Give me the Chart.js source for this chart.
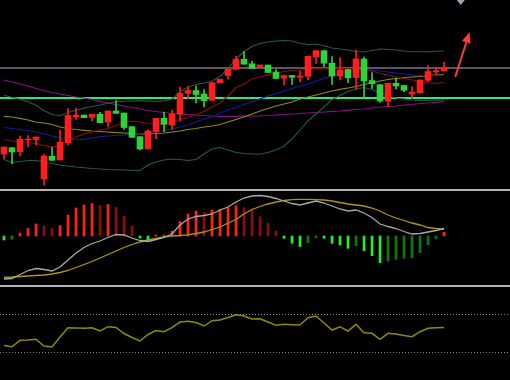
<!DOCTYPE html>
<html><head><meta charset="utf-8">
<script src="https://cdn.jsdelivr.net/npm/chart.js@4.4.1/dist/chart.umd.min.js"></script>
<style>
html,body{margin:0;padding:0;background:#000;}
#wrap{position:relative;width:510px;height:380px;background:#000;overflow:hidden;}
.pane{position:absolute;left:0;width:510px;}
.pane canvas{display:block;}
.sep{position:absolute;left:0;width:510px;height:2px;background:#b4b4b4;}
</style></head><body>
<div id="wrap">
 <div class="pane" style="top:0;height:189px"><canvas id="main" width="510" height="189"></canvas></div>
 <div class="sep" style="top:189px"></div>
 <div class="pane" style="top:191px;height:94px"><canvas id="macd" width="510" height="94"></canvas></div>
 <div class="sep" style="top:285px"></div>
 <div class="pane" style="top:287px;height:93px"><canvas id="osc" width="510" height="93"></canvas></div>
</div>
<script>
// ---------- DATA ----------
const candleOpen  = [4.6,5.23,4.83,6.0,6.05,2.1,4.37,4.0,5.73,8.3,8.5,8.27,8.57,7.8,8.9,8.7,7.33,6.33,5.13,6.85,8.17,7.5,8.6,10.67,10.95,10.6,9.97,11.73,12.45,13.07,14.08,13.62,13.23,13.5,12.8,12.18,12.45,12.27,12.37,14.33,14.93,13.68,12.4,13.05,12.25,14.1,11.95,11.53,9.9,11.67,11.45,10.6,10.73,11.97,12.8,12.9];
const candleClose = [5.3,4.8,6.07,6.1,6.3,4.4,3.97,5.77,8.45,8.5,8.23,8.57,7.73,8.9,8.67,7.25,6.27,5.1,6.9,8.17,7.57,8.6,10.67,10.95,10.55,9.93,11.73,12.08,13.1,14.08,13.58,13.17,13.5,12.75,12.15,12.45,12.27,12.4,14.38,14.93,13.68,12.4,13.0,12.22,14.1,11.9,11.63,9.9,11.67,11.4,10.97,10.8,12.0,12.85,12.93,13.23];
const candleHigh  = [5.3,5.23,6.4,6.45,6.3,4.57,5.27,7.0,9.15,9.2,8.5,8.57,8.77,8.9,9.95,8.7,7.33,6.33,7.05,8.17,8.8,9.0,11.3,11.35,11.4,11.03,11.73,12.08,13.1,14.4,14.83,13.9,13.5,13.5,13.03,12.45,12.45,12.9,14.38,14.93,14.93,14.33,14.23,13.05,15.0,14.3,12.73,11.53,11.67,12.2,11.45,11.33,12.0,13.45,13.3,13.8];
const candleLow   = [4.1,3.6,4.4,5.3,5.5,1.5,3.97,4.0,5.5,8.07,8.23,7.93,7.73,7.3,8.67,7.07,6.27,5.0,5.13,6.13,6.83,7.05,7.9,10.17,9.7,9.3,9.97,11.73,12.1,13.07,13.58,13.17,13.23,12.75,12.15,11.5,11.57,11.8,12.0,13.67,13.33,11.57,12.0,11.73,11.05,10.2,11.17,9.77,9.33,11.08,10.83,10.17,10.73,11.83,12.55,12.9];

const bollUpper = [10.48,10.28,10.07,9.82,9.47,8.95,8.55,8.43,8.75,8.98,9.19,9.35,9.5,9.67,9.83,9.87,9.9,9.92,9.9,9.85,9.9,10.1,10.8,11.3,11.55,11.7,11.9,12.35,13.15,14.1,14.85,15.35,15.65,15.8,15.9,15.95,15.9,15.67,15.55,15.6,15.43,15.2,15.1,15.0,14.85,14.8,14.95,15.1,15.05,15.0,14.9,14.83,14.82,14.83,14.87,14.9];
const bollLower = [4.05,3.75,3.85,3.95,3.95,3.8,3.65,3.5,3.4,3.3,3.23,3.15,3.1,3.05,3.03,3.0,2.97,2.95,3.5,3.8,4.0,4.1,4.05,3.95,4.05,4.6,5.1,5.25,5.0,4.75,4.65,4.6,4.6,4.75,5.0,5.4,6.1,7.0,7.9,8.6,9.3,10.05,10.45,10.85,11.1,11.25,11.05,10.7,10.4,10.2,10.1,10.0,9.95,9.95,9.97,10.0];
const maShort   = [6.05,5.9,5.83,5.75,5.65,5.45,5.3,5.4,5.9,6.3,6.6,6.8,7.0,7.15,7.45,7.8,7.9,7.8,7.65,7.6,7.65,7.8,8.05,8.25,8.55,8.85,9.35,9.7,10.4,11.25,11.6,12.1,12.3,12.53,12.7,12.85,12.95,13.0,13.05,13.15,13.17,13.17,13.17,13.15,13.1,13.05,12.9,12.65,12.5,12.3,12.17,12.0,11.85,11.7,11.67,11.75];
const maMid     = [7.25,7.15,7.05,6.95,6.8,6.6,6.4,6.25,6.15,6.05,6.07,6.2,6.33,6.4,6.45,6.5,6.55,6.65,6.75,6.85,6.95,7.1,7.3,7.5,7.8,8.1,8.3,8.7,9.0,9.25,9.55,9.8,10.1,10.4,10.65,10.9,11.15,11.4,11.6,11.9,12.15,12.45,12.7,12.85,12.95,13.05,13.0,12.9,12.8,12.7,12.6,12.5,12.45,12.4,12.45,12.5];
const maLong    = [8.37,8.3,8.17,8.0,7.8,7.7,7.55,7.3,7.15,7.05,6.97,6.9,6.85,6.8,6.73,6.7,6.67,6.6,6.6,6.65,6.7,6.8,6.9,7.05,7.15,7.3,7.4,7.55,7.8,8.05,8.3,8.6,8.9,9.15,9.4,9.6,9.8,10.1,10.3,10.5,10.7,10.9,11.07,11.2,11.35,11.55,11.7,11.9,12.05,12.15,12.25,12.3,12.35,12.43,12.5,12.57];
const maYear    = [12.0,11.8,11.6,11.4,11.15,10.95,10.75,10.6,10.45,10.3,10.2,10.05,9.87,9.7,9.55,9.4,9.25,9.1,8.95,8.85,8.75,8.65,8.6,8.53,8.5,8.45,8.4,8.37,8.35,8.37,8.38,8.4,8.4,8.45,8.5,8.55,8.6,8.65,8.7,8.75,8.8,8.87,8.9,8.97,9.05,9.1,9.2,9.3,9.35,9.4,9.5,9.55,9.65,9.7,9.77,9.83];
const priceLevels = [13.2, 10.17];           // grey last-price line, green support line
const arrowFrom = [56.4, 12.3], arrowTo = [58.2, 16.8];
const markerAt = [57.1, 20.0];

const macdHist = [-0.04,-0.033,0.03,0.075,0.12,0.10,0.075,0.105,0.21,0.28,0.31,0.325,0.305,0.315,0.285,0.20,0.10,-0.02,-0.04,0.01,0.01,0.05,0.145,0.22,0.25,0.237,0.26,0.265,0.283,0.303,0.285,0.27,0.193,0.127,0.05,-0.023,-0.073,-0.105,-0.067,-0.017,-0.023,-0.073,-0.09,-0.123,-0.097,-0.147,-0.197,-0.267,-0.25,-0.233,-0.223,-0.217,-0.165,-0.087,-0.027,0.037];
const macdDif  = [-0.43,-0.425,-0.385,-0.345,-0.325,-0.335,-0.35,-0.31,-0.24,-0.17,-0.115,-0.075,-0.05,-0.015,0.015,0.01,-0.02,-0.045,-0.055,-0.035,-0.015,0.02,0.11,0.17,0.195,0.205,0.22,0.26,0.29,0.34,0.38,0.40,0.405,0.395,0.375,0.35,0.325,0.31,0.33,0.35,0.33,0.30,0.27,0.25,0.26,0.23,0.185,0.12,0.095,0.075,0.045,0.02,0.025,0.04,0.055,0.075];
const macdDea  = [-0.413,-0.41,-0.405,-0.40,-0.395,-0.39,-0.38,-0.365,-0.345,-0.315,-0.285,-0.255,-0.22,-0.185,-0.15,-0.115,-0.085,-0.06,-0.04,-0.025,-0.01,0.0,0.005,0.012,0.025,0.04,0.065,0.09,0.13,0.165,0.22,0.265,0.295,0.32,0.34,0.355,0.363,0.367,0.367,0.363,0.36,0.35,0.335,0.32,0.31,0.30,0.28,0.25,0.21,0.18,0.155,0.13,0.11,0.085,0.075,0.067];

const oscValues = [29.9,28.0,38.3,38.8,39.9,29.1,27.5,43.6,58.5,58.0,57.5,58.5,53.2,60.1,58.8,49.2,42.8,37.2,47.6,54.0,52.1,58.5,67.6,68.8,66.8,61.2,69.7,70.8,74.9,79.3,77.3,72.5,72.9,67.6,62.3,63.9,63.3,62.8,74.5,77.3,66.0,54.8,60.1,53.2,63.9,50.5,49.5,39.9,49.5,48.4,46.0,44.1,52.1,57.5,58.5,58.8];
const oscLevels = [80, 20];

// ---------- helpers ----------
const X_MIN = -0.5, X_MAX = 63.25;
const pts = arr => arr.map((v, i) => ({x: i, y: v}));
const isUp = i => candleClose[i] >= candleOpen[i];
const RED = '#ff1e1e', GREEN = '#2fd23a';
const xScale = {type: 'linear', min: X_MIN, max: X_MAX, display: false, offset: false};
const baseOpts = {
  responsive: false, animation: false, devicePixelRatio: 1,
  layout: {padding: 0},
  plugins: {legend: {display: false}, tooltip: {enabled: false}},
  elements: {point: {radius: 0}},
};
function lineDs(arr, color, width, order) {
  return {type: 'line', data: pts(arr), borderColor: color, borderWidth: width,
          pointRadius: 0, tension: 0, fill: false, order: order};
}

// ---------- main price panel ----------
const mainDecor = {
  id: 'mainDecor',
  beforeDatasetsDraw(chart, args, opts) {
    const {ctx, chartArea: a, scales: {y}} = chart;
    ctx.save();
    priceLevels.forEach((lv, k) => {
      const py = Math.round(y.getPixelForValue(lv));
      ctx.strokeStyle = opts.levelColors[k];
      ctx.lineWidth = opts.levelWidths[k];
      ctx.beginPath(); ctx.moveTo(a.left, py); ctx.lineTo(a.right, py); ctx.stroke();
    });
    ctx.restore();
  },
  afterDatasetsDraw(chart) {
    const {ctx, scales: {x, y}} = chart;
    ctx.save();
    const x0 = x.getPixelForValue(arrowFrom[0]), y0 = y.getPixelForValue(arrowFrom[1]);
    const x1 = x.getPixelForValue(arrowTo[0]), y1 = y.getPixelForValue(arrowTo[1]);
    const ang = Math.atan2(y1 - y0, x1 - x0), L = 11, W = 4.5;
    const bx = x1 - L * Math.cos(ang), by = y1 - L * Math.sin(ang);
    ctx.strokeStyle = '#ff3a3a'; ctx.fillStyle = '#ff3a3a'; ctx.lineWidth = 2;
    ctx.beginPath(); ctx.moveTo(x0, y0); ctx.lineTo(bx, by); ctx.stroke();
    ctx.beginPath(); ctx.moveTo(x1, y1);
    ctx.lineTo(bx + W * Math.sin(ang), by - W * Math.cos(ang));
    ctx.lineTo(bx - W * Math.sin(ang), by + W * Math.cos(ang));
    ctx.closePath(); ctx.fill();
    const mx = x.getPixelForValue(markerAt[0]), my = y.getPixelForValue(markerAt[1]);
    ctx.fillStyle = '#9aa6b8';
    ctx.beginPath(); ctx.moveTo(mx - 4, my); ctx.lineTo(mx, my - 5); ctx.lineTo(mx + 4, my); ctx.lineTo(mx, my + 5); ctx.closePath(); ctx.fill();
    ctx.restore();
  }
};

new Chart(document.getElementById('main'), {
  type: 'bar',
  data: {datasets: [
    {type: 'bar', data: candleLow.map((v, i) => ({x: i, y: [v, candleHigh[i]]})),
     backgroundColor: c => isUp(c.dataIndex) ? RED : GREEN,
     barThickness: 1, grouped: false, borderWidth: 0, minBarLength: 1, order: 1},
    {type: 'bar', data: candleOpen.map((v, i) => ({x: i, y: [v, candleClose[i]]})),
     backgroundColor: c => isUp(c.dataIndex) ? RED : GREEN,
     barThickness: 6, grouped: false, borderWidth: 0, minBarLength: 1, order: 0},
    lineDs(bollUpper, '#225c40', 1.1, 5),
    lineDs(bollLower, '#225c40', 1.1, 5),
    lineDs(maYear, '#850e85', 1.2, 6),
    lineDs(maLong, '#948810', 1.2, 4),
    lineDs(maMid, '#121c98', 1.2, 3),
    lineDs(maShort, '#8c0c0c', 1.2, 2),
  ]},
  options: Object.assign({}, baseOpts, {
    scales: {x: xScale, y: {type: 'linear', min: 1.1, max: 20.0, display: false}},
    plugins: Object.assign({}, baseOpts.plugins, {
      mainDecor: {levelColors: ['#585864', '#22ee77'], levelWidths: [2, 2]}
    })
  }),
  plugins: [mainDecor]
});

// ---------- MACD panel ----------
function histColor(c) {
  const i = c.dataIndex, v = macdHist[i], p = i > 0 ? macdHist[i - 1] : v;
  if (v >= 0) return v >= p ? '#ff2020' : '#8c0c0c';
  return v <= p ? '#22ee22' : '#0b7a0b';
}
new Chart(document.getElementById('macd'), {
  type: 'bar',
  data: {datasets: [
    {type: 'bar', data: pts(macdHist), backgroundColor: histColor, barThickness: 2,
     grouped: false, borderWidth: 0, order: 3},
    lineDs(macdDif, '#a8a8a8', 1.3, 1),
    lineDs(macdDea, '#a89a08', 1.3, 2),
  ]},
  options: Object.assign({}, baseOpts, {
    scales: {x: xScale, y: {type: 'linear', min: -0.49, max: 0.45, display: false}}
  })
});

// ---------- oscillator panel ----------
const oscDecor = {
  id: 'oscDecor',
  beforeDatasetsDraw(chart) {
    const {ctx, chartArea: a, scales: {y}} = chart;
    ctx.save();
    ctx.strokeStyle = '#8a8a8a'; ctx.lineWidth = 1; ctx.setLineDash([1, 2]);
    oscLevels.forEach(lv => {
      const py = Math.round(y.getPixelForValue(lv)) + 0.5;
      ctx.beginPath(); ctx.moveTo(a.left, py); ctx.lineTo(a.right, py); ctx.stroke();
    });
    ctx.restore();
  }
};
new Chart(document.getElementById('osc'), {
  type: 'line',
  data: {datasets: [lineDs(oscValues, '#8e8c00', 1.5, 1)]},
  options: Object.assign({}, baseOpts, {
    scales: {x: xScale, y: {type: 'linear', min: -25.4, max: 123.8, display: false}}
  }),
  plugins: [oscDecor]
});
</script>
</body></html>
